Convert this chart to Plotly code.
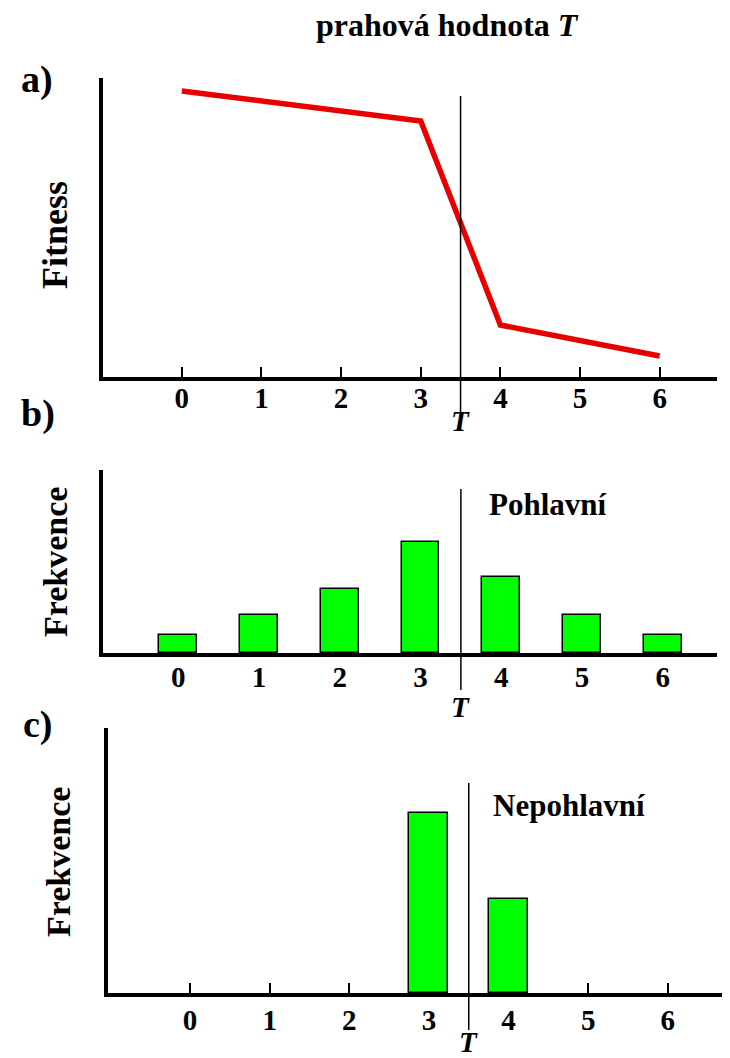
import plotly.graph_objects as go

W, H = 730, 1058
OFF = 8  # page body margin in the browser

# data
classes = [0, 1, 2, 3, 4, 5, 6]
tick_labels = ["0", "1", "2", "3", "4", "5", "6"]
threshold = 3.5
fitness_x = [0, 3, 4, 6]
fitness_y = [286, 256, 52, 21]
freq_sexual = [18, 38, 64, 111, 76, 38, 18]
freq_asexual = [0, 0, 0, 180, 94, 0, 0]

FONT = "Liberation Serif"
BLACK = "#000000"
GREEN = "#00ff00"
RED = "#e80000"


def px(x=None, y=None):
    """Screen pixel position -> paper coordinate."""
    if x is not None:
        return (x - OFF) / W
    return 1 - (y - OFF) / H


def xdom(left, right):
    return [px(x=left), px(x=right)]


def ydom(bottom, top):
    return [px(y=bottom), px(y=top)]


fig = go.Figure()

fig.add_trace(go.Scatter(
    x=fitness_x, y=fitness_y, mode="lines",
    line=dict(color=RED, width=5.5),
    xaxis="x", yaxis="y", showlegend=False,
))
fig.add_trace(go.Bar(
    x=classes, y=freq_sexual, width=0.47,
    marker=dict(color=GREEN, line=dict(color=BLACK, width=1.5)),
    xaxis="x2", yaxis="y2", showlegend=False,
))
fig.add_trace(go.Bar(
    x=classes, y=[v if v else None for v in freq_asexual], width=0.49,
    marker=dict(color=GREEN, line=dict(color=BLACK, width=1.5)),
    xaxis="x3", yaxis="y3", showlegend=False,
))

tickfont = dict(family=FONT, size=29, color=BLACK, weight="bold")


def x_axis(dom, rng, anchor, standoff):
    # inside ticks sit under the bars, as in the original
    return dict(
        domain=dom, range=rng, anchor=anchor,
        tickmode="array", tickvals=classes, ticktext=tick_labels,
        ticks="inside", ticklen=10, tickwidth=2, tickcolor=BLACK,
        showline=True, linecolor=BLACK, linewidth=4,
        showgrid=False, zeroline=False, layer="below traces",
        tickfont=tickfont, ticklabelstandoff=standoff, fixedrange=True,
    )


def y_axis(dom, rng, anchor):
    return dict(
        domain=dom, range=rng, anchor=anchor,
        showline=True, linecolor=BLACK, linewidth=4,
        showticklabels=False, ticks="", showgrid=False, zeroline=False,
        fixedrange=True,
    )


fig.update_layout(
    width=W, height=H,
    margin=dict(l=0, r=0, t=0, b=0),
    paper_bgcolor="white", plot_bgcolor="rgba(0,0,0,0)",
    xaxis=x_axis(xdom(103, 717), [-0.99, 6.72], "y", -8),
    yaxis=y_axis(ydom(377, 78), [0, 299], "x"),
    xaxis2=x_axis(xdom(103, 717), [-0.93, 6.67], "y2", -5),
    yaxis2=y_axis(ydom(653, 470), [0, 183], "x2"),
    xaxis3=x_axis(xdom(108, 722), [-1.03, 6.68], "y3", -2),
    yaxis3=y_axis(ydom(993, 728), [0, 265], "x3"),
    bargap=0,
)

# threshold lines
for xref, top, bottom in [("x", 96, 430), ("x2", 489, 690), ("x3", 783, 1030)]:
    fig.add_shape(type="line", xref=xref, yref="paper",
                  x0=threshold, x1=threshold, y0=px(y=bottom), y1=px(y=top),
                  line=dict(color=BLACK, width=1.5))

bold = dict(family=FONT, color=BLACK, weight="bold")


def note(text, x, y, size, xanchor="center", textangle=0):
    fig.add_annotation(text=text, x=px(x=x), y=px(y=y), xref="paper", yref="paper",
                       xanchor=xanchor, yanchor="middle", showarrow=False,
                       textangle=textangle, font=dict(size=size, **bold))


note("prahová hodnota <i>T</i>", 447, 25, 32)
note("a)", 37, 80, 38)
note("b)", 38, 413, 38)
note("c)", 38, 724, 38)
note("Fitness", 55, 235, 36, textangle=-90)
note("Frekvence", 55, 562, 34, textangle=-90)
note("Frekvence", 58, 862, 34, textangle=-90)
note("Pohlavní", 487, 505, 31, xanchor="left")
note("Nepohlavní", 491, 805, 31, xanchor="left")

for xref, ypos in [("x", 421), ("x2", 707), ("x3", 1042)]:
    fig.add_annotation(text="<i>T</i>", x=threshold, y=px(y=ypos), xref=xref, yref="paper",
                       xanchor="center", yanchor="middle", showarrow=False,
                       font=dict(size=29, **bold))

fig.write_html("out.html", config={"displayModeBar": False})
